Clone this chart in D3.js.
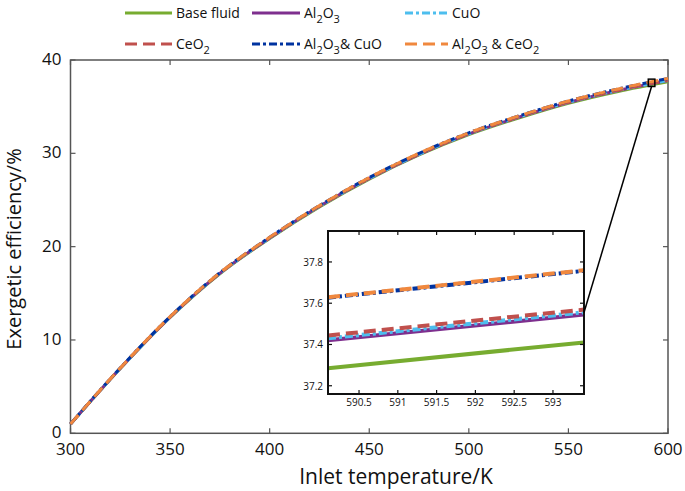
<!DOCTYPE html>
<html lang="en">
  <head>
    <meta charset="UTF-8" />
    <title>Exergetic efficiency</title>
    <script src="https://d3js.org/d3.v7.min.js"></script>
    <style>
      body {
        margin: 0;
        background: #fff;
        font-family: "Open Sans", sans-serif;
      }
      svg {
        display: block;
      }
    </style>
  </head>
  <body>
    <svg id="chart" width="685" height="491"></svg>

    <script>
      // main plot data (inlet temperature / K)
      const temps = [300, 325, 350, 375, 400, 425, 450, 475, 500, 525, 550, 575, 600];
      const baseFluid = [1.0, 6.95, 12.42, 17.1, 20.88, 24.26, 27.24, 29.82, 32.0, 33.78, 35.36, 36.63, 37.66];
      const al2o3 = [1.0, 6.97, 12.45, 17.14, 20.93, 24.32, 27.31, 29.9, 32.08, 33.87, 35.45, 36.73, 37.8];
      const cuo = [1.0, 6.97, 12.45, 17.14, 20.93, 24.32, 27.31, 29.9, 32.09, 33.88, 35.46, 36.74, 37.82];
      const ceo2 = [1.0, 6.97, 12.46, 17.15, 20.94, 24.33, 27.32, 29.91, 32.1, 33.89, 35.47, 36.75, 37.83];
      const al2o3Cuo = [1.0, 7.0, 12.5, 17.2, 21.0, 24.4, 27.4, 30.0, 32.2, 34.0, 35.6, 36.9, 38.02];
      const al2o3Ceo2 = [1.0, 7.0, 12.5, 17.2, 21.0, 24.4, 27.4, 30.0, 32.2, 34.0, 35.6, 36.9, 38.03];

      // zoomed inset data
      const insetTemps = [590.1, 593.4];
      const insetBase = [37.285, 37.41];
      const insetAl2o3 = [37.42, 37.545];
      const insetCuo = [37.43, 37.556];
      const insetCeo2 = [37.444, 37.569];
      const insetAl2o3Cuo = [37.627, 37.757];
      const insetAl2o3Ceo2 = [37.629, 37.76];

      const xTicks = [300, 350, 400, 450, 500, 550, 600];
      const yTicks = [0, 10, 20, 30, 40];
      const insetXTicks = [590.5, 591, 591.5, 592, 592.5, 593];
      const insetYTicks = [37.2, 37.4, 37.6, 37.8];

      // label parts: [text, subscript?]
      const series = [
        { label: [["Base fluid", 0]], main: baseFluid, inset: insetBase, color: "#77ac30", dash: null },
        { label: [["Al", 0], ["2", 1], ["O", 0], ["3", 1]], main: al2o3, inset: insetAl2o3, color: "#7e2f8e", dash: null },
        { label: [["CuO", 0]], main: cuo, inset: insetCuo, color: "#4dbeee", dash: "8,3,3,3" },
        { label: [["CeO", 0], ["2", 1]], main: ceo2, inset: insetCeo2, color: "#c0504d", dash: "12,6" },
        { label: [["Al", 0], ["2", 1], ["O", 0], ["3", 1], ["& CuO", 0]], main: al2o3Cuo, inset: insetAl2o3Cuo, color: "#0033a0", dash: "8,3,3,3" },
        { label: [["Al", 0], ["2", 1], ["O", 0], ["3", 1], [" & CeO", 0], ["2", 1]], main: al2o3Ceo2, inset: insetAl2o3Ceo2, color: "#f0883e", dash: "12,6" },
      ];

      const svg = d3.select("#chart");
      const axisColor = "#555";

      const x = d3.scaleLinear().domain([300, 600]).range([70.5, 668]);
      const y = d3.scaleLinear().domain([0, 40]).range([433.3, 60]);

      // frame
      svg.append("rect")
        .attr("x", x(300)).attr("y", y(40))
        .attr("width", x(600) - x(300)).attr("height", y(0) - y(40))
        .attr("fill", "none").attr("stroke", axisColor).attr("stroke-width", 1.5);

      // inward ticks on all four sides
      const tickLen = 5;
      const tickG = svg.append("g").attr("stroke", axisColor).attr("stroke-width", 1.2);
      xTicks.forEach((t) => {
        tickG.append("line").attr("x1", x(t)).attr("x2", x(t)).attr("y1", y(0)).attr("y2", y(0) - tickLen);
        tickG.append("line").attr("x1", x(t)).attr("x2", x(t)).attr("y1", y(40)).attr("y2", y(40) + tickLen);
      });
      yTicks.forEach((t) => {
        tickG.append("line").attr("x1", x(300)).attr("x2", x(300) + tickLen).attr("y1", y(t)).attr("y2", y(t));
        tickG.append("line").attr("x1", x(600)).attr("x2", x(600) - tickLen).attr("y1", y(t)).attr("y2", y(t));
      });

      svg.append("g").selectAll("text").data(xTicks).enter().append("text")
        .attr("x", (d) => x(d)).attr("y", 455)
        .attr("text-anchor", "middle").attr("font-size", 17).attr("fill", "#111")
        .text((d) => d);
      svg.append("g").selectAll("text").data(yTicks).enter().append("text")
        .attr("x", x(300) - 9).attr("y", (d) => y(d) + 5)
        .attr("text-anchor", "end").attr("font-size", 17).attr("fill", "#111")
        .text((d) => d);

      svg.append("text")
        .attr("x", 396).attr("y", 484)
        .attr("text-anchor", "middle").attr("font-size", 21).attr("fill", "#111")
        .text("Inlet temperature/K");
      svg.append("text")
        .attr("transform", `translate(21,249) rotate(-90)`)
        .attr("text-anchor", "middle").attr("font-size", 20).attr("fill", "#111")
        .text("Exergetic efficiency/%");

      // main curves
      const mainLine = d3.line()
        .x((d, i) => x(temps[i]))
        .y((d) => y(d))
        .curve(d3.curveMonotoneX);

      series.forEach((s) => {
        svg.append("path")
          .datum(s.main)
          .attr("d", mainLine)
          .attr("fill", "none")
          .attr("stroke", s.color)
          .attr("stroke-width", 3)
          .attr("stroke-dasharray", s.dash);
      });

      // inset
      const ix = d3.scaleLinear().domain([590.1, 593.4]).range([328, 584]);
      const iy = d3.scaleLinear().domain([37.16, 37.95]).range([394, 231]);

      // marker square on the main plot and the connector
      svg.append("rect")
        .attr("x", x(590.1)).attr("y", y(37.95))
        .attr("width", x(593.4) - x(590.1)).attr("height", y(37.16) - y(37.95))
        .attr("fill", "none").attr("stroke", "#000").attr("stroke-width", 1.5);

      const inset = svg.append("g");
      inset.append("rect")
        .attr("x", ix(590.1)).attr("y", iy(37.95))
        .attr("width", ix(593.4) - ix(590.1)).attr("height", iy(37.16) - iy(37.95))
        .attr("fill", "#fff");

      inset.append("clipPath").attr("id", "inset-clip")
        .append("rect")
        .attr("x", ix(590.1)).attr("y", iy(37.95))
        .attr("width", ix(593.4) - ix(590.1)).attr("height", iy(37.16) - iy(37.95));

      const insetLine = d3.line()
        .x((d, i) => ix(insetTemps[i]))
        .y((d) => iy(d));

      const insetPaths = inset.append("g").attr("clip-path", "url(#inset-clip)");
      series.forEach((s) => {
        insetPaths.append("path")
          .datum(s.inset)
          .attr("d", insetLine)
          .attr("fill", "none")
          .attr("stroke", s.color)
          .attr("stroke-width", 4)
          .attr("stroke-dasharray", s.dash);
      });

      inset.append("rect")
        .attr("x", ix(590.1)).attr("y", iy(37.95))
        .attr("width", ix(593.4) - ix(590.1)).attr("height", iy(37.16) - iy(37.95))
        .attr("fill", "none").attr("stroke", "#111").attr("stroke-width", 2);

      const itl = 4;
      const iTick = inset.append("g").attr("stroke", "#111").attr("stroke-width", 1.2);
      insetXTicks.forEach((t) => {
        iTick.append("line").attr("x1", ix(t)).attr("x2", ix(t)).attr("y1", iy(37.16)).attr("y2", iy(37.16) - itl);
        iTick.append("line").attr("x1", ix(t)).attr("x2", ix(t)).attr("y1", iy(37.95)).attr("y2", iy(37.95) + itl);
      });
      insetYTicks.forEach((t) => {
        iTick.append("line").attr("x1", ix(590.1)).attr("x2", ix(590.1) + itl).attr("y1", iy(t)).attr("y2", iy(t));
        iTick.append("line").attr("x1", ix(593.4)).attr("x2", ix(593.4) - itl).attr("y1", iy(t)).attr("y2", iy(t));
      });
      inset.selectAll(".ixl").data(insetXTicks).enter().append("text")
        .attr("x", (d) => ix(d)).attr("y", iy(37.16) + 12)
        .attr("text-anchor", "middle").attr("font-size", 10).attr("fill", "#111")
        .text((d) => d);
      inset.selectAll(".iyl").data(insetYTicks).enter().append("text")
        .attr("x", ix(590.1) - 5).attr("y", (d) => iy(d) + 4)
        .attr("text-anchor", "end").attr("font-size", 10).attr("fill", "#111")
        .text((d) => d.toFixed(1));

      svg.append("line")
        .attr("x1", ix(593.4)).attr("y1", iy(37.555))
        .attr("x2", x(591.75)).attr("y2", y(37.16))
        .attr("stroke", "#000").attr("stroke-width", 1.5);

      // legend
      const legendPos = [
        [125, 13, 47], [252, 13, 48], [405, 13, 43],
        [125, 44, 47], [252, 44, 48], [405, 44, 43],
      ];
      series.forEach((s, i) => {
        const [lx, ly, len] = legendPos[i];
        const g = svg.append("g").attr("transform", `translate(${lx},${ly})`);
        g.append("line")
          .attr("x1", 0).attr("x2", len).attr("y1", 0).attr("y2", 0)
          .attr("stroke", s.color).attr("stroke-width", 3)
          .attr("stroke-dasharray", s.dash);
        const t = g.append("text").attr("x", len + 4).attr("y", 5)
          .attr("font-size", 14).attr("fill", "#111");
        let sub = false;
        s.label.forEach(([txt, isSub]) => {
          const dy = isSub && !sub ? 5 : !isSub && sub ? -5 : 0;
          t.append("tspan")
            .attr("dy", dy)
            .attr("font-size", isSub ? 11 : 14)
            .text(txt);
          sub = !!isSub;
        });
      });
    </script>
  </body>
</html>
